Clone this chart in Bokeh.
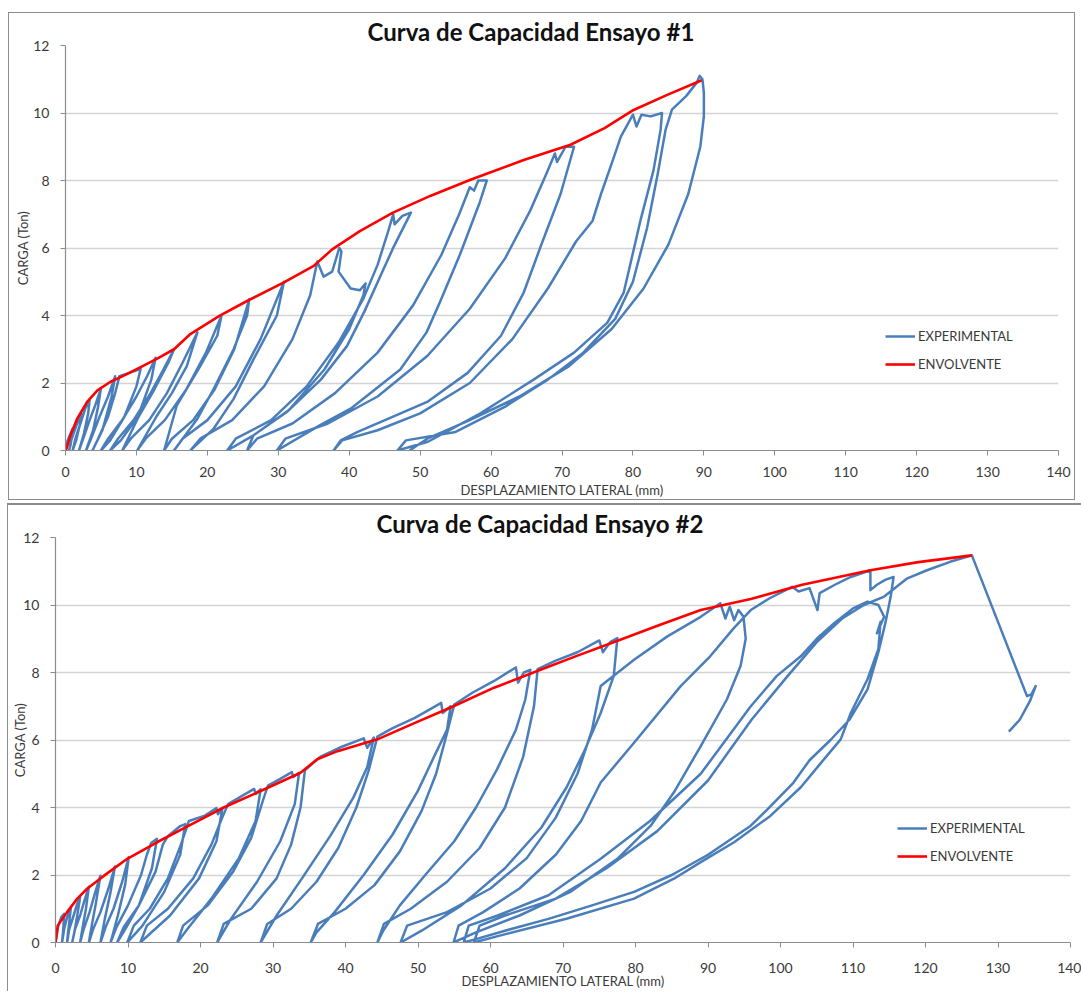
from bokeh.plotting import figure
from bokeh.models import Range1d, FixedTicker, Legend, LegendItem
from bokeh.embed import file_html
from bokeh.resources import INLINE

# ---------------- texts / ticks ----------------
titles = ["Curva de Capacidad Ensayo #1", "Curva de Capacidad Ensayo #2"]
x_label = "DESPLAZAMIENTO LATERAL (mm)"
y_label = "CARGA (Ton)"
series_names = ["EXPERIMENTAL", "ENVOLVENTE"]
x_ticks = [0, 10, 20, 30, 40, 50, 60, 70, 80, 90, 100, 110, 120, 130, 140]
y_ticks = [0, 2, 4, 6, 8, 10, 12]

# ---------------- data: test 1 ----------------
exp1_x = [
    0, 0.3, 0.7, 1.0, 0.9, 0.7, 0.5,
    0.8, 1.3, 1.8, 2.2, 2.0, 1.5, 1.0,
    1.4, 2.1, 2.8, 3.4, 3.2, 2.6, 1.9,
    2.5, 3.4, 4.3, 5.0, 4.6, 3.9, 2.9,
    3.6, 4.8, 6.0, 7.0, 6.5, 5.2, 3.8,
    4.6, 6.0, 7.0, 7.6, 9.0, 10.6, 10.0, 8.3, 6.3, 5.0,
    6.0, 8.0, 10.0, 11.5, 12.7, 12.1, 10.2, 7.8, 6.3,
    7.4, 9.6, 12.0, 13.8, 15.3, 14.5, 12.5, 10.3, 8.0,
    9.2, 11.8, 14.3, 16.5, 18.6, 17.1, 15.0, 12.8, 10.1,
    11.3, 14.0, 17.0, 19.8, 22.0, 21.4, 19.0, 15.7, 13.9,
    15.0, 18.0, 21.0, 23.8, 25.9, 25.6, 23.7, 20.9, 18.6, 15.3,
    16.5, 20.0, 24.0, 27.5, 30.8, 29.8, 26.5, 23.7, 20.9, 17.6,
    19.0, 23.5, 28.0, 32.0, 34.5, 35.5, 36.4, 37.6, 38.6, 38.9, 38.5, 40.2, 41.5, 42.3, 42.0,
    40.0, 36.5, 31.5, 26.5, 22.8,
    24.0, 29.0, 34.0, 38.5, 42.0, 44.0, 45.5, 46.2, 46.4, 47.5, 48.7,
    46.3, 44.4, 42.1, 39.7, 36.0, 31.2, 26.5, 25.6,
    27.0, 32.0, 38.0, 44.0, 49.0, 53.0, 55.5, 57.0, 57.6, 58.2, 59.4,
    58.4, 55.6, 52.8, 50.9, 47.2, 40.2, 35.9, 29.8,
    31.0, 37.0, 44.0, 51.0, 57.0, 62.0, 65.5, 67.8, 69.0, 69.3, 70.5, 71.7,
    69.8, 67.0, 64.6, 61.4, 56.7, 51.0, 41.2, 38.8, 37.8,
    39.0, 44.0, 50.0, 57.0, 63.0, 68.0, 72.0, 74.3, 75.5, 77.0, 78.3, 80.0, 80.5, 81.2, 82.5, 84.1,
    83.9, 82.9, 81.1, 79.5, 78.7, 76.4, 71.7, 66.0, 58.5, 51.1, 46.8,
    48.0, 55.0, 62.0, 68.0, 73.0, 77.5, 80.0, 82.0, 83.5, 84.6, 85.5, 87.5, 89.0, 89.4, 89.8,
    90.0, 90.0, 89.5, 87.8, 85.0, 81.5, 77.0, 71.0, 64.0, 57.0, 51.0, 48.5,
]
exp1_y = [
    0, 0.3, 0.5, 0.65, 0.4, 0.15, 0,
    0.3, 0.6, 0.9, 1.1, 0.75, 0.3, 0,
    0.35, 0.8, 1.25, 1.5, 1.1, 0.5, 0,
    0.35, 0.9, 1.4, 1.85, 1.3, 0.6, 0,
    0.35, 1.0, 1.6, 2.2, 1.6, 0.6, 0,
    0.35, 1.0, 1.7, 2.2, 2.3, 2.42, 1.9, 1.0, 0.3, 0,
    0.35, 0.9, 1.6, 2.2, 2.75, 2.1, 1.0, 0.3, 0,
    0.35, 0.9, 1.7, 2.4, 3.0, 2.6, 1.8, 1.0, 0,
    0.35, 0.9, 1.7, 2.6, 3.5, 2.5, 1.7, 1.0, 0,
    0.35, 0.9, 1.8, 2.9, 4.0, 3.4, 2.5, 1.34, 0,
    0.35, 0.9, 1.8, 3.0, 4.48, 4.0, 3.0, 1.83, 0.94, 0,
    0.35, 0.9, 1.9, 3.3, 5.0, 4.0, 2.7, 1.53, 0.65, 0,
    0.35, 0.9, 1.9, 3.3, 4.6, 5.6, 5.15, 5.3, 6.0, 5.9, 5.3, 4.8, 4.75, 4.95, 4.6,
    3.6, 2.4, 1.2, 0.45, 0,
    0.35, 0.9, 1.9, 3.2, 4.5, 5.5, 6.5, 7.0, 6.7, 6.95, 7.05,
    6.05, 5.17, 4.1, 3.1, 2.1, 1.14, 0.45, 0,
    0.35, 0.8, 1.7, 2.9, 4.3, 5.8, 7.0, 7.8, 7.7, 8.0, 8.0,
    7.35, 5.8, 4.4, 3.5, 2.4, 1.24, 0.75, 0,
    0.35, 0.8, 1.6, 2.8, 4.2, 5.7, 7.1, 8.2, 8.8, 8.55, 9.0, 9.0,
    7.6, 6.05, 4.68, 3.4, 2.3, 1.44, 0.55, 0.3, 0,
    0.3, 0.6, 1.1, 2.0, 3.3, 4.8, 6.2, 6.8, 7.6, 8.5, 9.3, 9.95, 9.6, 9.95, 9.9, 10.0,
    9.5, 8.3, 6.85, 5.4, 4.68, 3.79, 2.9, 2.1, 1.1, 0.26, 0,
    0.3, 0.55, 1.3, 2.1, 2.9, 3.9, 5.0, 6.6, 8.2, 9.5, 10.1, 10.5, 10.9, 11.1, 11.0,
    10.6, 9.9, 9.0, 7.6, 6.1, 4.8, 3.6, 2.5, 1.6, 0.9, 0.35, 0,
]
env1_x = [0, 0.15, 0.7, 1.65, 3.05, 4.5, 6.3, 8.5, 10.6, 13, 15.3, 17.6, 21.7, 25.6,
          30.8, 35, 37.6, 41.5, 46.1, 51.5, 57.1, 64.6, 71.2, 76, 80.1, 85, 89.7]
env1_y = [0, 0.06, 0.45, 0.94, 1.44, 1.78, 2.03, 2.25, 2.47, 2.73, 3.0, 3.45, 3.99, 4.43,
          4.98, 5.47, 5.96, 6.5, 7.04, 7.55, 8.02, 8.61, 9.06, 9.55, 10.09, 10.55, 10.97]

# ---------------- data: test 2 ----------------
exp2_x = [
    0, 0.4, 0.8, 1.2, 1.1, 1.0, 0.9,
    1.2, 1.6, 2.1, 1.9, 1.7, 1.6,
    1.9, 2.5, 3.0, 3.4, 3.0, 2.6, 2.3,
    2.7, 3.4, 4.0, 4.6, 4.2, 3.7, 3.4,
    3.9, 4.7, 5.5, 6.2, 5.6, 5.0, 4.6,
    5.2, 6.2, 7.3, 8.2, 7.6, 6.8, 6.2,
    6.9, 8.0, 9.2, 10.1, 9.6, 8.6, 7.6,
    8.4, 10.0, 11.8, 12.6, 13.2, 14.0, 13.3, 11.5, 9.5, 8.5,
    9.4, 11.5, 13.8, 14.8, 15.5, 17.2, 17.9, 17.2, 15.0, 12.0, 9.9,
    10.8, 13.0, 15.5, 17.3, 18.4, 20.5, 22.2, 22.4, 23.0, 22.2, 19.8, 15.8, 11.7,
    12.6, 15.5, 19.0, 21.5, 23.0, 23.8, 25.8, 27.4, 27.6, 28.3, 27.6, 25.3, 21.5, 18.2, 16.8,
    17.6, 21.0, 24.5, 27.0, 28.6, 29.3, 31.0, 32.6, 32.8, 33.6, 33.0, 31.0, 27.8, 24.2, 22.3,
    23.2, 27.0, 30.5, 32.5, 33.8, 34.4, 36.5, 39.5, 42.5, 43.0, 43.9,
    43.0, 41.1, 37.9, 34.0, 30.5, 28.3,
    29.2, 32.5, 36.0, 39.0, 41.5, 43.2, 44.4, 46.5, 49.5, 52.0, 53.2, 53.4, 54.5,
    54.0, 52.2, 50.0, 46.5, 42.5, 38.5, 36.0, 35.2,
    36.2, 40.0, 44.0, 47.5, 50.5, 52.5, 54.0, 55.0, 57.5, 60.5, 63.5, 63.8, 64.6, 65.5,
    64.8, 63.5, 60.9, 58.0, 55.0, 51.0, 47.5, 45.2, 44.4,
    45.3, 49.0, 54.0, 58.5, 62.0, 64.5, 66.0, 66.5, 69.0, 72.0, 75.0, 75.5, 76.5, 77.5,
    77.0, 75.2, 73.0, 70.5, 67.0, 62.0, 56.0, 50.5, 47.6,
    48.5, 54.0, 60.0, 65.0, 69.0, 72.0, 74.0, 75.2, 79.8, 84.4, 89.0, 91.7, 92.4, 93.0, 93.6, 94.2, 94.9,
    95.2, 94.5, 92.6, 89.0, 85.3, 82.1, 77.5, 71.0, 64.0, 58.0, 54.9,
    55.6, 59.0, 64.0, 69.0, 72.5, 75.2, 79.8, 86.2, 90.3, 93.5, 95.9, 98.5, 101.6, 102.5, 104.0,
    105.1, 105.4, 107.5, 109.7, 112.4, 112.4, 113.3, 114.5, 115.6,
    115.2, 114.5, 113.5, 112.0, 109.5, 106.9, 104.0, 101.8, 98.0, 95.9, 90.0, 85.0, 79.8, 74.0,
    68.0, 62.0, 58.0, 56.3,
    57.0, 61.0, 68.0, 75.2, 82.0, 89.0, 95.9, 99.5, 102.8, 105.0, 107.4, 110.0, 112.0, 113.5,
    114.3, 113.3, 113.8,
    113.5, 112.0, 109.7, 108.3, 105.5, 102.8, 98.6, 93.6, 89.0, 85.3, 79.8, 70.6, 61.4, 57.7,
    58.5, 62.0, 69.0, 76.0, 83.0, 90.0, 96.0, 101.0, 105.0, 108.5, 111.5, 114.3, 117.5, 120.2,
    123.4, 126.4,
    130.0, 134.0, 134.6, 135.2, 134.4, 133.0, 131.5,
]
exp2_y = [
    0, 0.5, 0.75, 0.85, 0.5, 0.2, 0,
    0.4, 0.75, 1.0, 0.6, 0.25, 0,
    0.4, 0.8, 1.15, 1.35, 0.8, 0.3, 0,
    0.4, 0.8, 1.25, 1.65, 1.0, 0.4, 0,
    0.4, 0.9, 1.5, 1.98, 1.2, 0.5, 0,
    0.4, 0.9, 1.6, 2.25, 1.5, 0.7, 0,
    0.45, 1.0, 1.8, 2.53, 1.7, 0.8, 0,
    0.45, 1.1, 2.0, 2.6, 2.95, 3.07, 2.2, 1.1, 0.35, 0,
    0.45, 1.1, 2.1, 2.9, 3.15, 3.45, 3.51, 2.6, 1.5, 0.5, 0,
    0.5, 1.0, 1.9, 2.9, 3.6, 3.75, 3.98, 3.8, 3.95, 3.0, 1.9, 0.8, 0,
    0.5, 1.0, 1.9, 2.9, 3.7, 4.1, 4.35, 4.55, 4.4, 4.54, 3.6, 2.5, 1.3, 0.4, 0,
    0.5, 1.1, 2.1, 3.1, 4.2, 4.65, 4.85, 5.05, 4.9, 5.03, 4.1, 3.0, 1.8, 0.7, 0,
    0.55, 1.0, 1.9, 2.9, 4.0, 5.1, 5.5, 5.8, 6.05, 5.77, 6.07,
    5.2, 4.3, 3.16, 1.9, 0.8, 0,
    0.55, 1.0, 1.8, 2.8, 4.0, 5.1, 6.1, 6.35, 6.65, 6.95, 7.1, 6.8, 7.0,
    6.3, 5.5, 4.5, 3.2, 2.0, 0.9, 0.3, 0,
    0.55, 1.0, 1.7, 2.7, 3.9, 5.0, 6.2, 7.05, 7.4, 7.75, 8.15, 7.7, 8.0, 8.08,
    7.2, 6.3, 5.13, 4.0, 3.0, 2.0, 1.1, 0.35, 0,
    0.55, 1.0, 1.8, 2.8, 4.0, 5.5, 7.0, 8.1, 8.35, 8.6, 8.95, 8.6, 8.9, 9.02,
    7.9, 6.8, 5.7, 4.6, 3.4, 2.2, 1.1, 0.35, 0,
    0.5, 0.9, 1.6, 2.5, 3.7, 5.0, 6.3, 7.6, 8.38, 9.07, 9.65, 10.05, 9.6, 9.95, 9.55, 9.85, 9.65,
    9.0, 8.2, 7.2, 5.82, 4.45, 3.46, 2.48, 1.5, 0.8, 0.3, 0,
    0.5, 0.9, 1.6, 2.6, 3.6, 4.74, 5.92, 7.59, 8.48, 9.3, 9.85, 10.2, 10.54, 10.4, 10.5,
    9.85, 10.35, 10.6, 10.83, 11.03, 10.44, 10.6, 10.75, 10.83,
    10.25, 9.5, 8.6, 7.5, 6.6, 6.0, 5.4, 4.74, 3.9, 3.46, 2.6, 2.0, 1.5, 1.1,
    0.7, 0.35, 0.1, 0,
    0.5, 0.8, 1.4, 2.48, 3.6, 5.0, 7.0, 7.9, 8.48, 9.0, 9.46, 9.9, 10.1, 10.0,
    9.65, 9.16, 9.5,
    8.7, 7.8, 6.8, 6.02, 5.3, 4.6, 3.75, 2.97, 2.38, 1.89, 1.3, 0.71, 0.21, 0,
    0.5, 0.8, 1.3, 2.2, 3.3, 4.8, 6.6, 7.9, 8.9, 9.6, 10.0, 10.25, 10.79, 11.03,
    11.28, 11.47,
    9.5, 7.3, 7.35, 7.6, 7.15, 6.6, 6.25,
]
env2_x = [0, 0.3, 1.6, 3, 4.4, 6.7, 9.9, 14, 18.2, 23.2, 28.3, 33.8, 36.1, 38.9, 44.4,
          49.5, 54.9, 60.5, 66.9, 72, 77.9, 83.5, 89, 95.9, 103, 112.4, 119, 126.4]
env2_y = [0, 0.5, 0.9, 1.3, 1.6, 1.98, 2.48, 2.97, 3.44, 4.0, 4.49, 5.03, 5.43, 5.67, 6.02,
          6.5, 7.0, 7.55, 8.08, 8.5, 8.97, 9.42, 9.85, 10.18, 10.6, 11.03, 11.27, 11.47]

BLUE = "#4a7ebb"
RED = "#ff0000"
FONT = "Lato"


def make_chart(title, ex, ey, vx, vy, width, height, borders, margin, title_offset,
               legend_loc, xstand, xlstand, ystand, ylstand, shadow):
    p = figure(width=width, height=height, output_backend="svg", toolbar_location=None,
               x_range=Range1d(0, 140), y_range=Range1d(0, 12),
               min_border_left=borders[0], min_border_right=borders[1],
               min_border_top=borders[2], min_border_bottom=borders[3],
               margin=margin)
    p.styles = {"box-shadow": shadow}
    p.border_fill_alpha = 0
    p.outline_line_color = None
    p.background_fill_color = "white"

    p.title.text = title
    p.title.align = "left"
    p.title.offset = title_offset
    p.title.standoff = 0
    p.title.text_font = FONT
    p.title.text_font_style = "bold"
    p.title.text_font_size = "24px"
    p.title.text_color = "#111111"

    r_exp = p.line(ex, ey, line_color=BLUE, line_width=2.5, line_join="round")
    r_env = p.line(vx, vy, line_color=RED, line_width=2.6, line_join="round")

    p.xaxis.ticker = FixedTicker(ticks=x_ticks)
    p.yaxis.ticker = FixedTicker(ticks=y_ticks)
    p.xgrid.visible = False
    p.ygrid.grid_line_color = "#d4d4d4"
    p.ygrid.grid_line_width = 1.3
    for ax in (p.xaxis[0], p.yaxis[0]):
        ax.axis_line_color = "#8c8c8c"
        ax.axis_line_width = 1.2
        ax.major_tick_line_color = "#8c8c8c"
        ax.major_tick_out = 5
        ax.major_tick_in = 0
        ax.minor_tick_line_color = None
        ax.major_label_text_font = FONT
        ax.major_label_text_font_size = "14px"
        ax.major_label_text_color = "#3a3a3a"
        ax.axis_label_text_font = FONT
        ax.axis_label_text_font_size = "13px"
        ax.axis_label_text_font_style = "normal"
        ax.axis_label_text_color = "#3a3a3a"
    p.xaxis.axis_label = x_label
    p.yaxis.axis_label = y_label
    p.xaxis.major_label_standoff = xstand
    p.xaxis.axis_label_standoff = xlstand
    p.yaxis.major_label_standoff = ystand
    p.yaxis.axis_label_standoff = ylstand

    legend = Legend(items=[LegendItem(label=series_names[0], renderers=[r_exp]),
                           LegendItem(label=series_names[1], renderers=[r_env])],
                    location=legend_loc, glyph_width=30, glyph_height=20, label_height=20,
                    spacing=8, padding=0, margin=0, border_line_color=None,
                    background_fill_alpha=0, label_text_font=FONT,
                    label_text_font_size="13px", label_text_color="#3a3a3a",
                    label_standoff=3)
    p.add_layout(legend)
    return p


p1 = make_chart(titles[0], exp1_x, exp1_y, env1_x, env1_y, 1067, 488, (57, 17, 33, 48),
                (12, 0, 0, 8), 302, (820, 76), 11, 2, 11, -1,
                "inset 0 0 0 1px #8c8c8c")
p2 = make_chart(titles[1], exp2_x, exp2_y, env2_x, env2_y, 1074, 488, (48, 11, 34, 47),
                (3, 0, 0, 7), 321, (842, 76), 15, -3, 11, -8,
                "inset 1px 2px 0 0 #8c8c8c")

open("out.html", "w").write(file_html([p1, p2], INLINE))
